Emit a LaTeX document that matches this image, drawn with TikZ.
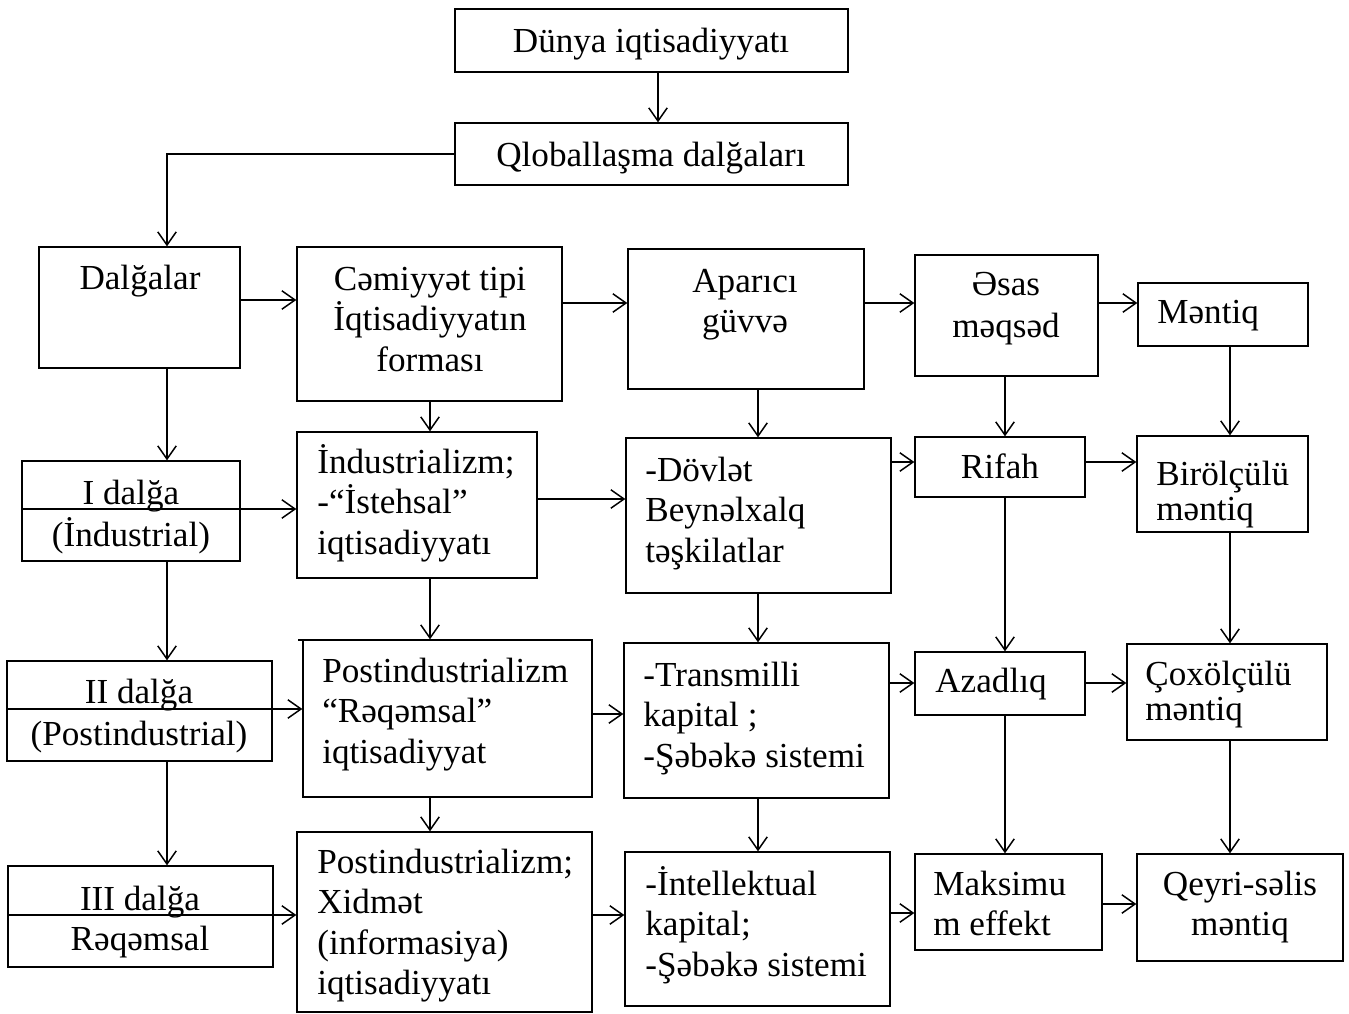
\documentclass[tikz,border=0pt]{standalone}
\usepackage{fontspec}
\setmainfont{Liberation Serif}
\usetikzlibrary{arrows.meta,fit}
\newcommand\bx[5]{\node[box,fit={(#2,#3) (#4,#5)}] (#1) {};}
\newcommand\tl[5][]{\node[txt,#1,align=left,anchor=north west] (#2) at (#3,#4-31.75) {\rule{0pt}{18pt}#5};}
\newcommand\tc[5][]{\node[txt,#1,align=center,anchor=north] (#2) at (#3,#4-31.75) {\rule{0pt}{18pt}#5};}
\begin{document}
\begin{tikzpicture}[x=0.02cm,y=-0.02cm,
 box/.style={draw,line width=0.75pt,inner sep=0pt},
 txt/.style={inner sep=0pt,font=\fontsize{20}{23}\selectfont},
 tight/.style={font=\fontsize{20}{20}\selectfont},
 wide/.style={font=\fontsize{20}{24.3}\selectfont},
 arr/.style={line width=0.85pt,-{Straight Barb[length=7.5pt,width=10.5pt]}}]
\useasboundingbox (0,0) rectangle (1349,1014);
% boxes
\bx{dunya}{455}{9}{848}{72}
\bx{qlob}{455}{123}{848}{185}
\bx{dalg}{39}{247}{240}{368}
\bx{cem}{297}{247}{562}{401}
\bx{apar}{628}{249}{864}{389}
\bx{esas}{915}{255}{1098}{376}
\bx{ment}{1138}{283}{1308}{346}
\bx{wI}{22}{461}{240}{561}
\bx{ind}{297}{432}{537}{578}
\bx{dov}{626}{438}{891}{593}
\bx{rif}{915}{437}{1085}{497}
\bx{bir}{1137}{436}{1308}{532}
\bx{wII}{7}{661}{272}{761}
\bx{post}{303}{640}{592}{797}
\bx{trans}{624}{643}{889}{798}
\bx{azad}{915}{652}{1085}{715}
\bx{cox}{1127}{644}{1327}{740}
\bx{wIII}{8}{866}{273}{967}
\bx{xid}{297}{832}{592}{1012}
\bx{intel}{625}{852}{890}{1006}
\bx{maks}{915}{854}{1102}{950}
\bx{qeyri}{1137}{854}{1343}{961}
\draw[line width=1.5pt] (298,640) -- (537,640);
% texts
\tc{t1}{651}{52}{Dünya iqtisadiyyatı}
\tc{t2}{651}{166}{Qloballaşma dalğaları}
\tc{t3}{140}{289}{Dalğalar}
\tc{t4}{430}{290}{Cəmiyyət tipi\\İqtisadiyyatın\\forması}
\tc{t5}{745}{292}{Aparıcı\\güvvə}
\tc[wide]{t6}{1006}{295}{Əsas\\məqsəd}
\tl{t7}{1157}{323}{Məntiq}
\tc[wide]{t8}{131}{504}{I dalğa\\(İndustrial)}
\tl{t9}{317}{473}{İndustrializm;\\-“İstehsal”\\iqtisadiyyatı}
\tl{t10}{645}{481}{-Dövlət\\Beynəlxalq\\təşkilatlar}
\tc{t11}{1000}{478}{Rifah}
\tl[tight]{t12}{1156}{485}{Birölçülü\\məntiq}
\tc[wide]{t13}{139}{703}{II dalğa\\(Postindustrial)}
\tl{t14}{322}{682}{Postindustrializm\\“Rəqəmsal”\\iqtisadiyyat}
\tl{t15}{643}{686}{-Transmilli\\kapital ;\\-Şəbəkə sistemi}
\tl{t16}{935}{692}{Azadlıq}
\tl[tight]{t17}{1145}{685}{Çoxölçülü\\məntiq}
\tc{t18}{140}{910}{III dalğa\\Rəqəmsal}
\tl{t19}{317}{873}{Postindustrializm;\\Xidmət\\(informasiya)\\iqtisadiyyatı}
\tl{t20}{645}{895}{-İntellektual\\kapital;\\-Şəbəkə sistemi}
\tl{t21}{933}{895}{Maksimu\\m effekt}
\tc{t22}{1240}{895}{Qeyri-səlis\\məntiq}
% connectors
\draw[arr] (dunya.south -| 658,0) -- (qlob.north -| 658,0);
\draw[arr] (qlob.west |- 0,154) -| (dalg.north -| 167,0);
\draw[arr] (dalg.east |- 0,300) -- (cem.west |- 0,300);
\draw[arr] (cem.east |- 0,303) -- (apar.west |- 0,303);
\draw[arr] (apar.east |- 0,303) -- (esas.west |- 0,303);
\draw[arr] (esas.east |- 0,303) -- (ment.west |- 0,303);
\draw[arr] (dalg.south -| 167,0) -- (wI.north -| 167,0);
\draw[arr] (cem.south -| 430,0) -- (ind.north -| 430,0);
\draw[arr] (apar.south -| 758,0) -- (dov.north -| 758,0);
\draw[arr] (esas.south -| 1005,0) -- (rif.north -| 1005,0);
\draw[arr] (ment.south -| 1230,0) -- (bir.north -| 1230,0);
\draw[arr] (wI.west |- 0,509) -- (ind.west |- 0,509);
\draw[arr] (ind.east |- 0,499) -- (dov.west |- 0,499);
\draw[arr] (dov.east |- 0,462) -- (rif.west |- 0,462);
\draw[arr] (rif.east |- 0,462) -- (bir.west |- 0,462);
\draw[arr] (wI.south -| 167,0) -- (wII.north -| 167,0);
\draw[arr] (ind.south -| 430,0) -- (post.north -| 430,0);
\draw[arr] (dov.south -| 758,0) -- (trans.north -| 758,0);
\draw[arr] (rif.south -| 1005,0) -- (azad.north -| 1005,0);
\draw[arr] (bir.south -| 1230,0) -- (cox.north -| 1230,0);
\draw[arr] (wII.west |- 0,709) -- (post.west |- 0,709);
\draw[arr] (post.east |- 0,714) -- (trans.west |- 0,714);
\draw[arr] (trans.east |- 0,683) -- (azad.west |- 0,683);
\draw[arr] (azad.east |- 0,683) -- (cox.west |- 0,683);
\draw[arr] (wII.south -| 167,0) -- (wIII.north -| 167,0);
\draw[arr] (post.south -| 430,0) -- (xid.north -| 430,0);
\draw[arr] (trans.south -| 758,0) -- (intel.north -| 758,0);
\draw[arr] (azad.south -| 1005,0) -- (maks.north -| 1005,0);
\draw[arr] (cox.south -| 1230,0) -- (qeyri.north -| 1230,0);
\draw[arr] (wIII.west |- 0,915) -- (xid.west |- 0,915);
\draw[arr] (xid.east |- 0,915) -- (intel.west |- 0,915);
\draw[arr] (intel.east |- 0,913) -- (maks.west |- 0,913);
\draw[arr] (maks.east |- 0,904) -- (qeyri.west |- 0,904);
\end{tikzpicture}
\end{document}
